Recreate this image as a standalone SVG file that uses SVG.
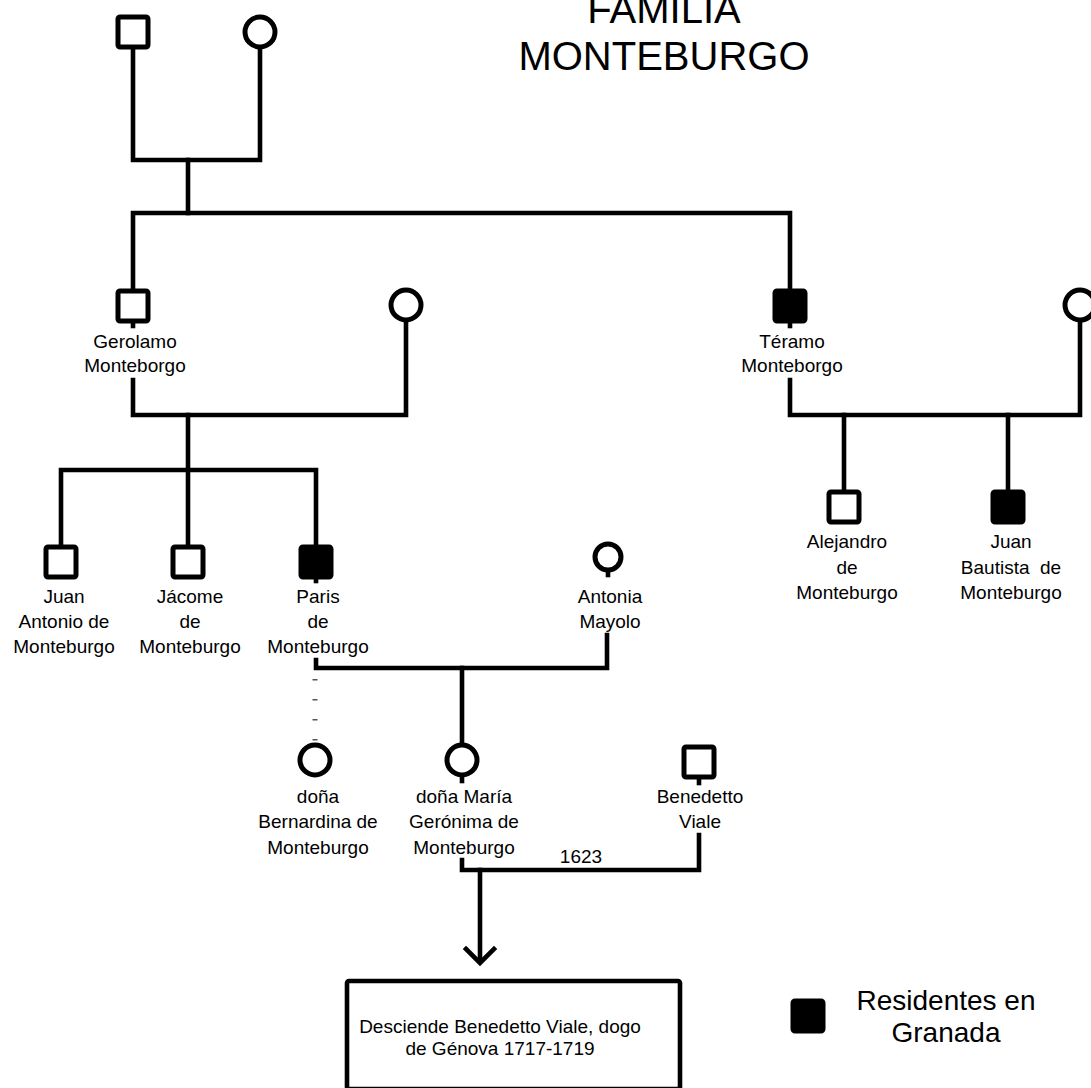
<svg xmlns="http://www.w3.org/2000/svg" width="1091" height="1088" viewBox="0 0 1091 1088">
  <style>
    .ln { fill: none; stroke: #000; stroke-width: 4.6; stroke-linejoin: miter; stroke-linecap: square; }
    .m { fill: #fff; stroke: #000; stroke-width: 5; }
    .mf { fill: #000; stroke: #000; stroke-width: 5; }
    .f { fill: #fff; stroke: #000; stroke-width: 5; }
    .box { fill: #fff; stroke: #000; stroke-width: 4.6; }
    .lbl { font-family: "Liberation Sans", Arial, sans-serif; font-size: 19px; fill: #000; text-anchor: middle; }
    .ttl { font-family: "Liberation Sans", Arial, sans-serif; font-size: 40px; fill: #000; text-anchor: middle; }
    .leg { font-family: "Liberation Sans", Arial, sans-serif; font-size: 28px; fill: #000; text-anchor: middle; }
  </style>
  <rect width="1091" height="1088" fill="#fff"/>

  <g id="title">
    <text class="ttl" x="664" y="23">FAMILIA</text>
    <text class="ttl" x="664" y="70">MONTEBURGO</text>
  </g>

  <!-- connectors -->
  <g id="connectors">
    <path class="ln" d="M133 48 V160 H260 V47"/>
    <path class="ln" d="M188 160 V213"/>
    <path class="ln" d="M133 289 V213 H790 V289"/>
    <path class="ln" d="M133 323 V326"/>
    <path class="ln" d="M790 323 V326"/>
    <path class="ln" d="M133 380 V415 H406 V320"/>
    <path class="ln" d="M188 415 V545"/>
    <path class="ln" d="M61 545 V470 H316 V545"/>
    <path class="ln" d="M790 380 V415 H1080 V320"/>
    <path class="ln" d="M844 415 V490"/>
    <path class="ln" d="M1008 415 V490"/>
    <path class="ln" d="M316 577 V581"/>
    <path class="ln" d="M608 570 V575"/>
    <path class="ln" d="M316 660 V668 H607 V635"/>
    <path class="ln" d="M462 668 V745"/>
    <line x1="315" y1="679" x2="315" y2="745" stroke="#555" stroke-width="5" stroke-dasharray="1.5 18.5"/>
    <path class="ln" d="M462 775 V781"/>
    <path class="ln" d="M699 778 V783"/>
    <path class="ln" d="M462 860 V870 H699 V835"/>
    <path class="ln" d="M480 870 V960"/>
    <polyline class="ln" points="466,949 480,963 494,949" stroke-linecap="butt"/>
    <text class="lbl" x="581" y="863">1623</text>
  </g>

  <g id="gen1-father"><rect class="m" x="118" y="17" width="30" height="30" rx="2"/></g>
  <g id="gen1-mother"><circle class="f" cx="260" cy="32" r="15"/></g>

  <g id="gerolamo">
    <rect class="m" x="118" y="291" width="30" height="30" rx="2"/>
    <text class="lbl" x="135" y="348">Gerolamo</text>
    <text class="lbl" x="135" y="372">Monteborgo</text>
  </g>
  <g id="gerolamo-wife"><circle class="f" cx="406" cy="305" r="15"/></g>

  <g id="teramo">
    <rect class="mf" x="775" y="291" width="30" height="30" rx="2"/>
    <text class="lbl" x="792" y="348">Téramo</text>
    <text class="lbl" x="792" y="372">Monteborgo</text>
  </g>
  <g id="teramo-wife"><circle class="f" cx="1080" cy="305" r="15"/></g>

  <g id="juan-antonio">
    <rect class="m" x="46" y="547" width="30" height="30" rx="2"/>
    <text class="lbl" x="64" y="603">Juan</text>
    <text class="lbl" x="64" y="628">Antonio de</text>
    <text class="lbl" x="64" y="653">Monteburgo</text>
  </g>
  <g id="jacome">
    <rect class="m" x="173" y="547" width="30" height="30" rx="2"/>
    <text class="lbl" x="190" y="603">Jácome</text>
    <text class="lbl" x="190" y="628">de</text>
    <text class="lbl" x="190" y="653">Monteburgo</text>
  </g>
  <g id="paris">
    <rect class="mf" x="301" y="547" width="30" height="30" rx="2"/>
    <text class="lbl" x="318" y="603">Paris</text>
    <text class="lbl" x="318" y="628">de</text>
    <text class="lbl" x="318" y="653">Monteburgo</text>
  </g>
  <g id="antonia">
    <circle class="f" cx="608" cy="557" r="13"/>
    <text class="lbl" x="610" y="603">Antonia</text>
    <text class="lbl" x="610" y="628">Mayolo</text>
  </g>

  <g id="alejandro">
    <rect class="m" x="829" y="492" width="30" height="30" rx="2"/>
    <text class="lbl" x="847" y="548">Alejandro</text>
    <text class="lbl" x="847" y="574">de</text>
    <text class="lbl" x="847" y="599">Monteburgo</text>
  </g>
  <g id="juan-bautista">
    <rect class="mf" x="993" y="492" width="30" height="30" rx="2"/>
    <text class="lbl" x="1011" y="548">Juan</text>
    <text class="lbl" x="1011" y="574" xml:space="preserve">Bautista  de</text>
    <text class="lbl" x="1011" y="599">Monteburgo</text>
  </g>

  <g id="bernardina">
    <circle class="f" cx="315" cy="760" r="15"/>
    <text class="lbl" x="318" y="803">doña</text>
    <text class="lbl" x="318" y="828">Bernardina de</text>
    <text class="lbl" x="318" y="854">Monteburgo</text>
  </g>
  <g id="maria-geronima">
    <circle class="f" cx="462" cy="760" r="15"/>
    <text class="lbl" x="464" y="803">doña María</text>
    <text class="lbl" x="464" y="828">Gerónima de</text>
    <text class="lbl" x="464" y="854">Monteburgo</text>
  </g>
  <g id="benedetto">
    <rect class="m" x="684" y="747" width="30" height="30" rx="2"/>
    <text class="lbl" x="700" y="803">Benedetto</text>
    <text class="lbl" x="700" y="828">Viale</text>
  </g>

  <g id="descendants">
    <rect class="box" x="347" y="981" width="333" height="108" rx="2"/>
    <text class="lbl" x="500" y="1033">Desciende Benedetto Viale, dogo</text>
    <text class="lbl" x="500" y="1055">de Génova 1717-1719</text>
  </g>

  <g id="legend">
    <rect class="mf" x="793" y="1001" width="30" height="30" rx="2"/>
    <text class="leg" x="946" y="1010">Residentes en</text>
    <text class="leg" x="946" y="1042">Granada</text>
  </g>
</svg>
